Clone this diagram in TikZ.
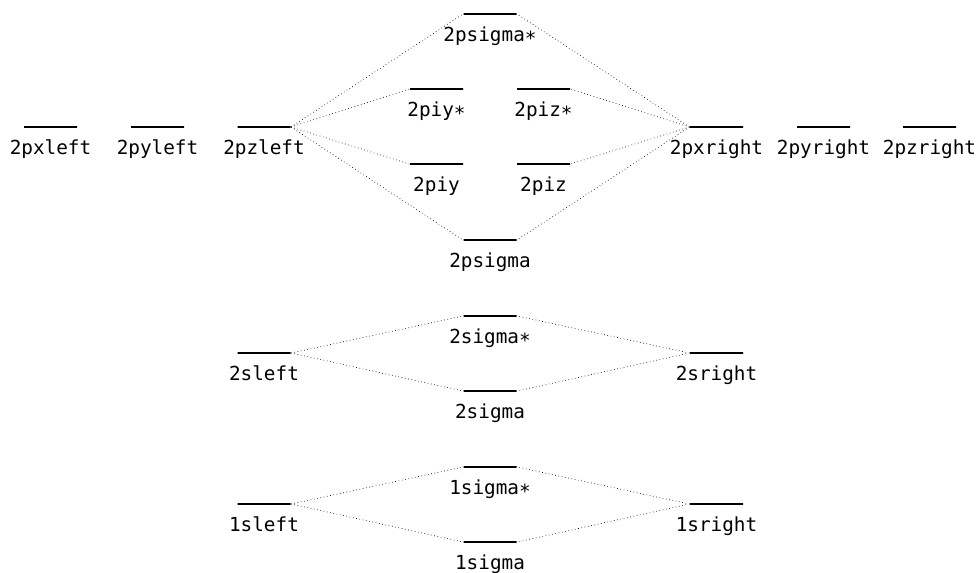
\documentclass[tikz,border=0pt]{standalone}
\usepackage{fontspec}
\setmonofont{DejaVu Sans Mono}
\usepackage{tikz}

\begin{document}
\begin{tikzpicture}[x=0.75pt, y=-0.75pt,
	level/.style={draw, line width=0.8pt, minimum width=53*0.75pt, minimum height=0pt, inner sep=0pt,
		label={[label distance=5.5pt, font=\ttfamily\fontsize{14.5}{16}\selectfont]below:#1}},
	link/.style={dotted, line width=0.5pt}]
	\useasboundingbox (0,0) rectangle (979,572);
	% atomic levels
	\foreach \n/\x/\y/\t in {pxl/50.5/127/2pxleft, pyl/157.5/127/2pyleft, pzl/264/127/2pzleft,
			pxr/716.5/127/2pxright, pyr/823.5/127/2pyright, pzr/929.5/127/2pzright,
			sl/264/353/2sleft, sr/716.5/353/2sright, ssl/264/504/1sleft, ssr/716.5/504/1sright}
		\node[level=\t] (\n) at (\x,\y) {};
	% molecular levels
	\foreach \n/\x/\y/\t in {psgs/490/14/2psigma∗, piys/436.5/89/2piy∗, pizs/543.5/89/2piz∗,
			piy/436.5/164/2piy, piz/543.5/164/2piz, psg/490/240/2psigma,
			sgs/490/316/2sigma∗, sg/490/391/2sigma, ssgs/490/467/1sigma∗, ssg/490/542/1sigma}
		\node[level=\t] (\n) at (\x,\y) {};
	\foreach \a/\b in {pzl/psgs, pzl/piys, pzl/piy, pzl/psg, sl/sgs, sl/sg, ssl/ssgs, ssl/ssg}
		\draw[link] (\a.east) -- (\b.west);
	\foreach \a/\b in {pxr/psgs, pxr/pizs, pxr/piz, pxr/psg, sr/sgs, sr/sg, ssr/ssgs, ssr/ssg}
		\draw[link] (\a.west) -- (\b.east);
\end{tikzpicture}
\end{document}
